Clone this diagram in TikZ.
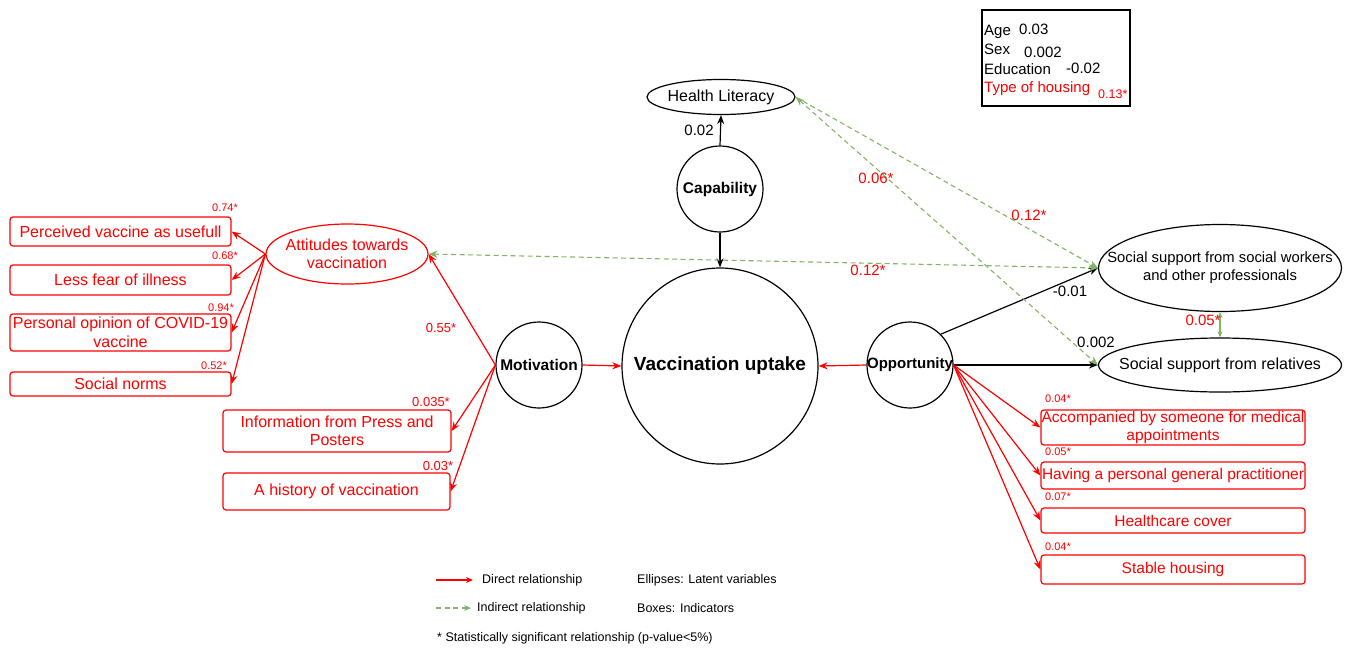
\documentclass[tikz,border=0pt]{standalone}
\usepackage{fontspec}
\setmainfont{Liberation Sans}
\usetikzlibrary{shapes.geometric,arrows.meta}
\definecolor{dgreen}{RGB}{130,179,102}
\definecolor{dred}{RGB}{255,0,0}
\tikzset{
  latent/.style={draw=black, line width=1.2pt, ellipse, inner xsep=-30pt, inner ysep=-5pt, align=center, font=\fontsize{16}{18}\selectfont},
  construct/.style={draw=black, line width=1.2pt, circle, inner sep=-6pt, align=center, font=\bfseries\fontsize{15.5}{18}\selectfont},
  indbox/.style={draw=dred, line width=1.2pt, rounded corners=3pt, inner sep=0pt, align=center, text=dred, font=\fontsize{16}{18.5}\selectfont},
  rbox/.style={indbox, font=\fontsize{15.5}{18}\selectfont},
  direct/.style={draw=dred, line width=1.2pt, -{Stealth[length=9pt,width=7pt]}},
  blackarr/.style={draw=black, line width=1.2pt, -{Stealth[length=9pt,width=7pt]}},
  indirect/.style={draw=dgreen, line width=1.1pt, dash pattern=on 5pt off 3.5pt},
  coefs/.style={text=dred, font=\fontsize{11}{13}\selectfont, inner sep=0pt},
  coefm/.style={text=dred, font=\fontsize{13}{15}\selectfont, inner sep=0pt},
  coefl/.style={text=dred, font=\fontsize{15}{17}\selectfont, inner sep=0pt},
  coefb/.style={text=black, font=\fontsize{15}{17}\selectfont, inner sep=0pt},
  legtxt/.style={font=\fontsize{12.5}{14}\selectfont, inner sep=0pt, anchor=west},
  boxtxt/.style={font=\fontsize{15}{17}\selectfont, inner sep=0pt, anchor=base west},
}
\begin{document}
\begin{tikzpicture}[x=1pt,y=-1pt]
\useasboundingbox (0,0) rectangle (1346,648);
% central constructs
\node[construct, minimum size=196pt, font=\bfseries\fontsize{19}{21}\selectfont] (vu) at (720,366) {Vaccination uptake};
\node[construct, minimum size=86pt] (cap) at (720,189) {Capability};
\node[construct, minimum size=86pt, font=\bfseries\fontsize{15.5}{18}\selectfont] (mot) at (539,365) {Motivation};
\node[construct, minimum size=86pt, font=\bfseries\fontsize{15}{18}\selectfont] (opp) at (910,365) {Opportunity};
% latent ellipses
\node[latent, minimum width=148pt, minimum height=35pt] (hl) at (721,97) {Health Literacy};
\node[latent, draw=dred, text=dred, minimum width=162pt, minimum height=60pt] (att) at (347,254) {Attitudes towards\\vaccination};
\node[latent, minimum width=243pt, minimum height=87pt, font=\fontsize{14.8}{18}\selectfont] (sw) at (1220,268) {Social support from social workers\\and other professionals};
\node[latent, minimum width=243pt, minimum height=54pt] (rel) at (1220,365) {Social support from relatives};
% left indicator boxes
\node[indbox, minimum width=221pt, minimum height=29pt] (b1) at (120.5,231.5) {Perceived vaccine as usefull};
\node[indbox, minimum width=221pt, minimum height=30pt] (b2) at (120.5,280) {Less fear of illness};
\node[indbox, minimum width=221pt, minimum height=37pt] (b3) at (120.5,332.5) {Personal opinion of COVID-19\\vaccine};
\node[indbox, minimum width=221pt, minimum height=24pt] (b4) at (120.5,384) {Social norms};
\node[indbox, minimum width=228pt, minimum height=42pt] (b5) at (337,431) {Information from Press and\\Posters};
\node[indbox, minimum width=227pt, minimum height=37pt] (b6) at (336.5,491.5) {A history of vaccination};
% right indicator boxes
\node[rbox, minimum width=264pt, minimum height=35pt] (r1) at (1173,427.5) {Accompanied by someone for medical\\appointments};
\node[rbox, minimum width=264pt, minimum height=27pt] (r2) at (1173,475.5) {Having a personal general practitioner};
\node[rbox, minimum width=264pt, minimum height=25pt] (r3) at (1173,520.5) {Healthcare cover};
\node[rbox, minimum width=264pt, minimum height=29pt] (r4) at (1173,569.5) {Stable housing};
% covariates box
\node[draw=black, line width=1.3pt, minimum width=148pt, minimum height=96pt, inner sep=0pt] (cov) at (1056,58) {};
\node[boxtxt] (cage) at (984,35) {Age};
\node[boxtxt] (cagev) at (1019,34) {0.03};
\node[boxtxt] (csex) at (984,54) {Sex};
\node[boxtxt] (csexv) at (1024,57) {0.002};
\node[boxtxt] (cedu) at (984,74) {Education};
\node[boxtxt] (ceduv) at (1066,73) {-0.02};
\node[boxtxt, text=dred] (chou) at (984,92) {Type of housing};
\node[boxtxt, text=dred, font=\fontsize{12.5}{14}\selectfont] (chouv) at (1098,98) {0.13*};
% black arrows
\draw[blackarr] (cap.north) -- (hl.south);
\draw[blackarr] (cap.south) -- (vu.north);
\draw[blackarr] (opp.north east) -- (sw.west);
\draw[blackarr] (opp.east) -- (rel.west);
% red direct arrows
\draw[direct] (mot.east) -- (vu.west);
\draw[direct] (opp.west) -- (vu.east);
\draw[direct] (mot.west) -- (att.east);
\draw[direct] (mot.west) -- (b5.east);
\draw[direct] (mot.west) -- (b6.east);
\draw[direct] (att.west) -- (b1.east);
\draw[direct] (att.west) -- (b2.east);
\draw[direct] (att.west) -- (b3.east);
\draw[direct] (att.west) -- (b4.east);
\draw[direct] (opp.east) -- (r1.west);
\draw[direct] (opp.east) -- (r2.west);
\draw[direct] (opp.east) -- (r3.west);
\draw[direct] (opp.east) -- (r4.west);
% green indirect
\draw[indirect, -{Stealth[length=9pt,width=7pt]}] (hl.east) -- (sw.west);
\draw[indirect, {Stealth[length=9pt,width=7pt]}-{Stealth[length=9pt,width=7pt]}] (att.east) -- (sw.west);
\draw[indirect, {Stealth[length=9pt,width=7pt]}-{Stealth[length=9pt,width=7pt]}] (hl.east) -- (rel.west);
\draw[draw=dgreen, line width=1.2pt, {Stealth[length=6pt,width=5pt]}-{Stealth[length=6pt,width=5pt]}] (sw.south) -- (rel.north);
% coefficient labels
\node[coefb] (l002) at (699,130) {0.02};
\node[coefl] (l006) at (876,178) {0.06*};
\node[coefl] (l012a) at (1029,215) {0.12*};
\node[coefl] (l012b) at (868,270) {0.12*};
\node[coefb] (l001) at (1070,291) {-0.01};
\node[coefb] (l0002) at (1096,342) {0.002};
\node[coefl] (l005) at (1203,320) {0.05*};
\node[coefm] (l055) at (441,328) {0.55*};
\node[coefm] (l035) at (431,402) {0.035*};
\node[coefm] (l03) at (438,466) {0.03*};
\node[coefs] (l74) at (225,208) {0.74*};
\node[coefs] (l68) at (225,256) {0.68*};
\node[coefs] (l94) at (221,308) {0.94*};
\node[coefs] (l52) at (214,366) {0.52*};
\node[coefs] (lr1) at (1058,399) {0.04*};
\node[coefs] (lr2) at (1058,452) {0.05*};
\node[coefs] (lr3) at (1058,497) {0.07*};
\node[coefs] (lr4) at (1058,547) {0.04*};
% legend
\coordinate (la1) at (436,580);
\coordinate (la2) at (473,580);
\draw[direct, -{Stealth[length=7pt,width=6pt]}] (la1) -- (la2);
\coordinate (lb1) at (436,608);
\coordinate (lb2) at (471,608);
\draw[indirect, -{Stealth[length=7pt,width=6pt]}] (lb1) -- (lb2);
\node[legtxt] (ld) at (482,580) {Direct relationship};
\node[legtxt] (li) at (477,608) {Indirect relationship};
\node[legtxt] (le) at (637,580) {Ellipses: Latent variables};
\node[legtxt] (lbx) at (637,608) {Boxes: Indicators};
\node[legtxt] (ls) at (437,638) {* Statistically significant relationship (p-value<5\%)};
\end{tikzpicture}
\end{document}
